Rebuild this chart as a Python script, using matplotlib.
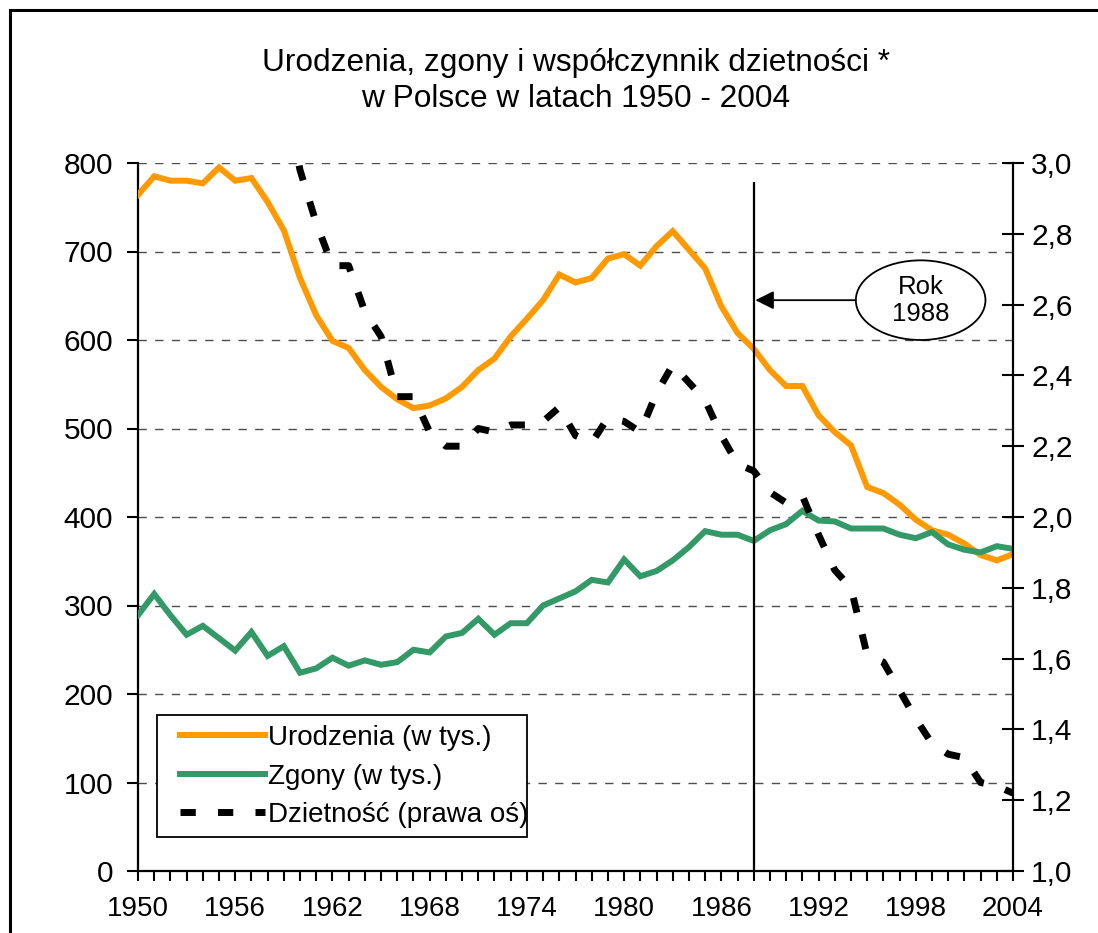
import matplotlib
matplotlib.use("Agg")
import matplotlib.pyplot as plt
from matplotlib.patches import Ellipse, Rectangle
from matplotlib.lines import Line2D
import numpy as np

plt.rcParams['font.family'] = ['Liberation Sans', 'DejaVu Sans']

years = list(range(1950, 2005))
births = [764, 785, 780, 780, 777, 795, 780, 783, 756, 724,
          670, 628, 599, 591, 566, 547, 533, 523, 526, 534,
          547, 566, 579, 604, 624, 645, 674, 665, 670, 692,
          697, 684, 706, 723, 702, 681, 638, 608, 590, 566,
          548, 548, 515, 496, 481, 434, 427, 414, 397, 385,
          380, 370, 357, 351, 358]
deaths = [289, 313, 289, 267, 277, 263, 249, 270, 243, 254,
          224, 229, 241, 232, 238, 233, 236, 250, 247, 265,
          269, 285, 267, 280, 280, 300, 308, 316, 329, 326,
          352, 333, 339, 351, 366, 384, 380, 380, 373, 385,
          392, 407, 396, 395, 387, 387, 387, 380, 376, 383,
          369, 363, 360, 367, 364]
fert_years = list(range(1959, 2005))
fertility = [3.20,
             2.98, 2.83, 2.71, 2.71, 2.58, 2.51, 2.34, 2.34, 2.24, 2.20,
             2.20, 2.25, 2.24, 2.26, 2.26, 2.27, 2.31, 2.23, 2.21, 2.28,
             2.27, 2.24, 2.35, 2.43, 2.38, 2.33, 2.23, 2.15, 2.13, 2.07,
             2.04, 2.06, 1.95, 1.85, 1.80, 1.61, 1.59, 1.51, 1.43, 1.36,
             1.33, 1.32, 1.25, 1.24, 1.22]

xtick_labels = ['1950', '1956', '1962', '1968', '1974', '1980', '1986', '1992', '1998', '2004']
left_ticks = [0, 100, 200, 300, 400, 500, 600, 700, 800]
right_ticks = [1.0, 1.2, 1.4, 1.6, 1.8, 2.0, 2.2, 2.4, 2.6, 2.8, 3.0]
marker_year = 1988

title = "Urodzenia, zgony i współczynnik dzietności *\nw Polsce w latach 1950 - 2004"
lab_births = "Urodzenia (w tys.)"
lab_deaths = "Zgony (w tys.)"
lab_fert = "Dzietność (prawa oś)"

W, H = 1098, 933
fig = plt.figure(figsize=(W / 100, H / 100), dpi=100)
ax = fig.add_axes([138 / W, 1 - 871 / H, (1013 - 138) / W, (871 - 163) / H])
ax2 = ax.twinx()

orange = '#FF9900'
green = '#339966'

ax.set_xlim(1950, 2004)
ax.set_ylim(0, 800)
ax2.set_ylim(1.0, 3.0)

for y in left_ticks[1:]:
    ax.axhline(y, color='#4d4d4d', lw=1.0, ls=(0, (6, 6)), zorder=1)

l1, = ax.plot(years, births, color=orange, lw=4.3, solid_joinstyle='miter', zorder=3)
l2, = ax.plot(years, deaths, color=green, lw=4.3, solid_joinstyle='miter', zorder=3)
l3, = ax2.plot(fert_years, fertility, color='black', lw=5.0, ls=(0, (2.2, 3.2)),
               dash_capstyle='butt', zorder=3)

ax.vlines(marker_year, 0, 778, color='black', lw=1.6, zorder=4)

# annotation ellipse
ex, ey = 1998.3, 645
ell = Ellipse((ex, ey), 8.0, 90, facecolor='white', edgecolor='black', lw=1.3, zorder=5)
ax.add_patch(ell)
ax.text(ex, ey, "Rok\n1988", ha='center', va='center', fontsize=18.5, zorder=6,
        linespacing=1.15)
ax.annotate("", xy=(marker_year + 0.1, 645), xytext=(ex - 4.0, 645),
            arrowprops=dict(arrowstyle='-|>', color='black', lw=1.3,
                            mutation_scale=28, shrinkA=0, shrinkB=0), zorder=5)

# spines
for a in (ax, ax2):
    a.spines['top'].set_visible(False)
ax.spines['right'].set_visible(False)
ax2.spines['left'].set_visible(False)
ax2.spines['bottom'].set_visible(False)
for s in ('left', 'bottom'):
    ax.spines[s].set_linewidth(1.6)
ax2.spines['right'].set_linewidth(1.6)

ax.set_xticks(range(1950, 2005, 6))
ax.set_xticklabels(xtick_labels)
ax.set_xticks(years, minor=True)
ax.set_yticks(left_ticks)
ax.set_yticklabels([str(v) for v in left_ticks])
ax2.set_yticks(right_ticks)
ax2.set_yticklabels([f"{v:.1f}".replace('.', ',') for v in right_ticks])

ax.tick_params(axis='x', which='both', direction='out', length=7, width=1.5, labelsize=20, pad=11)
ax.tick_params(axis='y', direction='out', length=8, width=1.5, labelsize=21.5, pad=10)
ax2.tick_params(axis='y', direction='inout', length=16, width=1.5, labelsize=21.5, pad=5)

fig.text(0.5 * (138 + 1013) / W, 1 - 81 / H, title, ha='center', va='center',
         fontsize=22.8, linespacing=1.22)

# legend box and legend
box = Rectangle((157 / W, 1 - 837 / H), (527 - 157) / W, (837 - 715) / H,
                transform=fig.transFigure, facecolor='white',
                edgecolor='black', lw=1.3, zorder=9, clip_on=False)
ax2.add_patch(box)
leg = ax2.legend([l1, l2, l3], [lab_births, lab_deaths, lab_fert],
                 loc='upper left', bbox_to_anchor=(180 / W, 1 - 725 / H),
                 bbox_transform=fig.transFigure, borderaxespad=0,
                 fontsize=20.0, frameon=False, handlelength=3.05,
                 handletextpad=0.1, labelspacing=0.45, borderpad=0.0)
leg.set_zorder(10)

# figure frame (left and top edges visible)
fig.add_artist(Line2D([9.5 / W, 9.5 / W], [0, 1 - 10 / H], transform=fig.transFigure,
                      color='black', lw=2.2))
fig.add_artist(Line2D([9.5 / W, 1], [1 - 10 / H, 1 - 10 / H], transform=fig.transFigure,
                      color='black', lw=2.2))

fig.savefig("out.png", dpi=100)
